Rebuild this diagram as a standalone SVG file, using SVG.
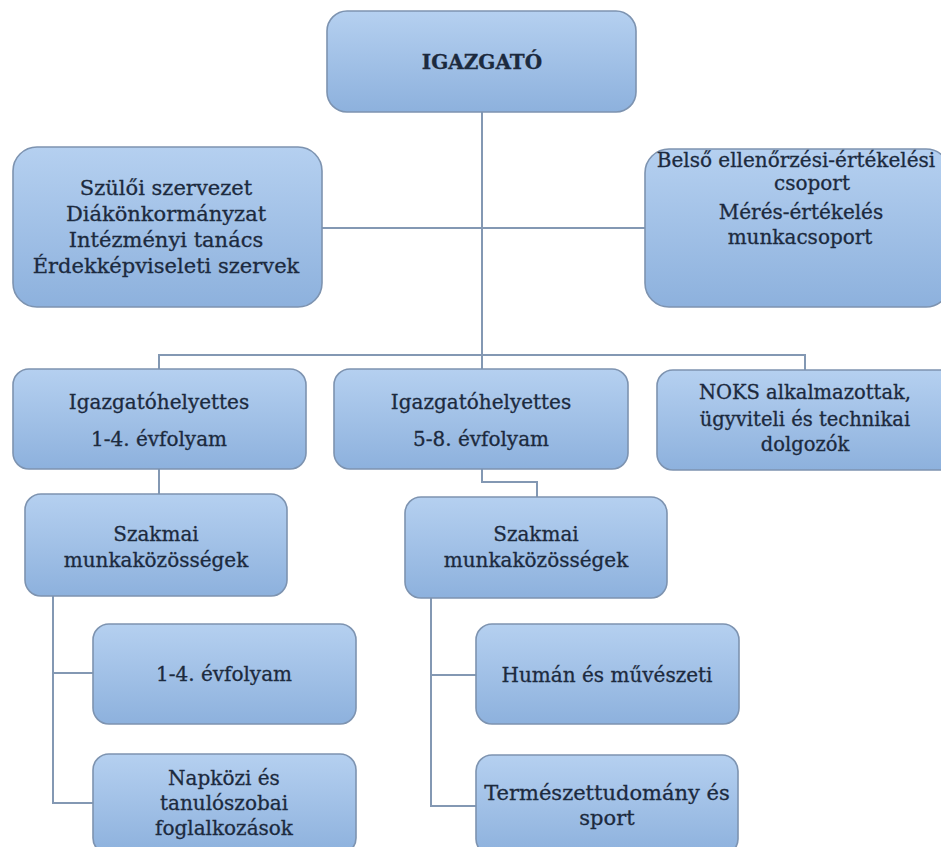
<svg xmlns="http://www.w3.org/2000/svg" width="941" height="847" viewBox="0 0 941 847">
<defs>
<linearGradient id="g" x1="0" y1="0" x2="0" y2="1">
<stop offset="0" stop-color="#b5d0f0"/>
<stop offset="1" stop-color="#8db1dd"/>
</linearGradient>
<style>
.box{fill:url(#g);stroke:#7d93b0;stroke-width:1.6}
.t{font-family:"DejaVu Serif","Liberation Serif",serif;font-size:20px;fill:#1c2a3e;stroke:#1c2a3e;stroke-width:0.3;text-anchor:middle}
.b{font-weight:bold}
.l{font-size:21px}
.n{font-size:19.5px}
.c{fill:none;stroke:#8398b3;stroke-width:2}
</style>
</defs>
<rect width="941" height="847" fill="#ffffff"/>
<g id="connectors">
<path class="c" d="M482 112 V482 H537 V497"/>
<path class="c" d="M322 228 H645"/>
<path class="c" d="M159 369 V355 H805 V370"/>
<path class="c" d="M159 469 V494"/>
<path class="c" d="M53 596 V803 H93 M53 673 H93"/>
<path class="c" d="M431 598 V806 H476 M431 675 H476"/>
</g>
<g id="igazgato">
<rect class="box" x="327" y="11" width="309" height="101" rx="20"/>
<text class="t b" x="482" y="69">IGAZGATÓ</text>
</g>
<g id="szuloi">
<rect class="box" x="13" y="147" width="309" height="160" rx="24"/>
<text class="t l" x="166" y="195">Szülői szervezet</text>
<text class="t l" x="166" y="221">Diákönkormányzat</text>
<text class="t l" x="166" y="247">Intézményi tanács</text>
<text class="t l" x="166" y="273">Érdekképviseleti szervek</text>
</g>
<g id="belso">
<rect class="box" x="645" y="149" width="305" height="158" rx="24"/>
<text class="t" x="796" y="167">Belső ellenőrzési-értékelési</text>
<text class="t" x="812" y="190">csoport</text>
<text class="t" x="801" y="219">Mérés-értékelés</text>
<text class="t" x="800" y="244">munkacsoport</text>
</g>
<g id="ighely14">
<rect class="box" x="13" y="369" width="293" height="100" rx="16"/>
<text class="t" x="159" y="409">Igazgatóhelyettes</text>
<text class="t" x="159" y="446">1-4. évfolyam</text>
</g>
<g id="ighely58">
<rect class="box" x="334" y="369" width="294" height="100" rx="16"/>
<text class="t" x="481" y="409">Igazgatóhelyettes</text>
<text class="t" x="481" y="446">5-8. évfolyam</text>
</g>
<g id="noks">
<rect class="box" x="657" y="370" width="300" height="100" rx="16"/>
<text class="t n" x="805" y="399">NOKS alkalmazottak,</text>
<text class="t n" x="805" y="426">ügyviteli és technikai</text>
<text class="t n" x="805" y="451">dolgozók</text>
</g>
<g id="szakmai1">
<rect class="box" x="25" y="494" width="262" height="102" rx="16"/>
<text class="t" x="156" y="541">Szakmai</text>
<text class="t" x="156" y="567">munkaközösségek</text>
</g>
<g id="szakmai2">
<rect class="box" x="405" y="497" width="262" height="101" rx="16"/>
<text class="t" x="536" y="541">Szakmai</text>
<text class="t" x="536" y="567">munkaközösségek</text>
</g>
<g id="evf14">
<rect class="box" x="93" y="624" width="263" height="100" rx="16"/>
<text class="t" x="224" y="681">1-4. évfolyam</text>
</g>
<g id="napkozi">
<rect class="box" x="93" y="754" width="263" height="100" rx="16"/>
<text class="t" x="224" y="785">Napközi és</text>
<text class="t" x="224" y="810">tanulószobai</text>
<text class="t" x="224" y="835">foglalkozások</text>
</g>
<g id="human">
<rect class="box" x="476" y="624" width="263" height="100" rx="16"/>
<text class="t" x="607" y="682">Humán és művészeti</text>
</g>
<g id="termeszet">
<rect class="box" x="476" y="755" width="262" height="100" rx="16"/>
<text class="t l" x="607" y="800">Természettudomány és</text>
<text class="t l" x="607" y="825">sport</text>
</g>
</svg>
